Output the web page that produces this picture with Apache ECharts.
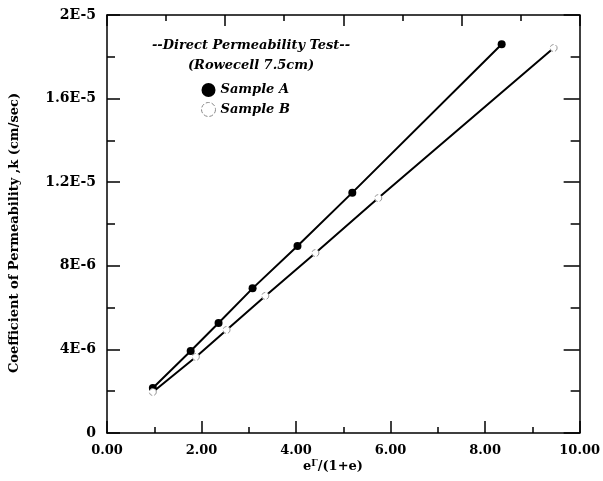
<!DOCTYPE html>
<html><head><meta charset="utf-8">
<script src="https://cdn.jsdelivr.net/npm/echarts@6/dist/echarts.min.js"></script>
<style>html,body{margin:0;padding:0;background:#fff}#c{width:603px;height:481px}</style>
</head><body><div id="c"></div>
<script>
const sampleA_x = [0.97, 1.77, 2.36, 3.08, 4.03, 5.19, 8.35];
const sampleA_k = [2.15e-6, 3.92e-6, 5.26e-6, 6.92e-6, 8.95e-6, 11.5e-6, 18.6e-6];
const sampleB_x = [0.97, 1.88, 2.53, 3.35, 4.41, 5.74, 9.45];
const sampleB_k = [1.96e-6, 3.64e-6, 4.93e-6, 6.56e-6, 8.61e-6, 11.24e-6, 18.42e-6];
const xTickLabels = ['0.00','2.00','4.00','6.00','8.00','10.00'];
const yTickLabels = ['0','4E-6','8E-6','1.2E-5','1.6E-5','2E-5'];
const legendTitle = ['--Direct Permeability Test--', '(Rowecell 7.5cm)'];
const seriesNames = ['Sample A', 'Sample B'];

const FONT = '"DejaVu Serif", serif';
const chart = echarts.init(document.getElementById('c'), null, {renderer: 'canvas'});
const lineOn = {show: true, onZero: false, lineStyle: {color: '#000', width: 1.5}};
const lineOff = {show: false, onZero: false};
const tickIn = len => ({show: true, inside: true, length: len, lineStyle: {color: '#000', width: 1.5}});
const noLabel = {show: false};
function xa(pos, max, interval, len, line, label) {
  return {type: 'value', position: pos, min: 0, max: max, interval: interval,
    axisLine: line ? lineOn : lineOff, axisTick: tickIn(len), splitLine: {show: false},
    axisLabel: label || noLabel};
}
function ya(pos, interval, len, line, label) {
  return {type: 'value', position: pos, min: 0, max: 2e-5, interval: interval,
    axisLine: line ? lineOn : lineOff, axisTick: tickIn(len), splitLine: {show: false},
    axisLabel: label || noLabel};
}
chart.setOption({
  animation: false,
  backgroundColor: '#fff',
  grid: {left: 107, right: 22, top: 15, bottom: 48},
  xAxis: [
    xa('bottom', 10, 2, 12, true, {margin: 11, color: '#000', fontFamily: FONT, fontWeight: 'bold', fontSize: 13,
      formatter: v => xTickLabels[Math.round(v / 2)]}),
    xa('bottom', 10, 1, 6, false),
    xa('top', 8, 2, 11, true),
    xa('top', 8, 1, 6, false)
  ],
  yAxis: [
    ya('left', 4e-6, 13, true, {margin: 11, color: '#000', fontFamily: FONT, fontWeight: 'bold', fontSize: 14,
      formatter: v => yTickLabels[Math.round(v / 4e-6)]}),
    ya('left', 2e-6, 8, false),
    ya('right', 4e-6, 16, true),
    ya('right', 2e-6, 9, false)
  ],
  legend: {
    orient: 'vertical', left: 196, top: 78, itemGap: 5, itemWidth: 14, itemHeight: 14,
    data: [
      {name: seriesNames[0], icon: 'circle', itemStyle: {color: '#000', borderWidth: 0}},
      {name: seriesNames[1], icon: 'circle', itemStyle: {color: '#fff', borderColor: '#888', borderWidth: 1, borderType: 'dashed'}}
    ],
    textStyle: {fontFamily: FONT, fontWeight: 'bold', fontStyle: 'italic', fontSize: 13, color: '#000'}
  },
  graphic: [
    {type: 'text', x: 251, y: 46, style: {text: legendTitle[0], align: 'center', verticalAlign: 'middle',
      font: 'italic bold 13px ' + FONT, fill: '#000'}},
    {type: 'text', x: 251, y: 66, style: {text: legendTitle[1], align: 'center', verticalAlign: 'middle',
      font: 'italic bold 13px ' + FONT, fill: '#000'}},
    {type: 'text', x: 15, y: 233, rotation: Math.PI / 2, style: {text: 'Coefficient of Permeability ,k (cm/sec)',
      align: 'center', verticalAlign: 'middle', font: 'bold 13px ' + FONT, fill: '#000'}},
    {type: 'text', x: 333, y: 467, style: {
      text: '{b|e}{s|Γ}{b|/(1+e)}', align: 'center', verticalAlign: 'middle',
      rich: {b: {font: 'bold 13px ' + FONT, fill: '#000'}, s: {font: 'bold 9px ' + FONT, fill: '#000', verticalAlign: 'top', padding: [0,0,6,0]}}}}
  ],
  series: [{
    name: seriesNames[0], type: 'line', xAxisIndex: 0, yAxisIndex: 0,
    data: sampleA_x.map((x, i) => [x, sampleA_k[i]]),
    symbol: 'circle', symbolSize: 8, showAllSymbol: true,
    itemStyle: {color: '#000', borderWidth: 0},
    lineStyle: {color: '#000', width: 2}
  }, {
    name: seriesNames[1], type: 'line', xAxisIndex: 0, yAxisIndex: 0,
    data: sampleB_x.map((x, i) => [x, sampleB_k[i]]),
    symbol: 'circle', symbolSize: 7, showAllSymbol: true,
    itemStyle: {color: '#fff', borderColor: '#999', borderWidth: 1, borderType: 'dashed'},
    lineStyle: {color: '#000', width: 2}, z: 3
  }]
});
</script></body></html>
